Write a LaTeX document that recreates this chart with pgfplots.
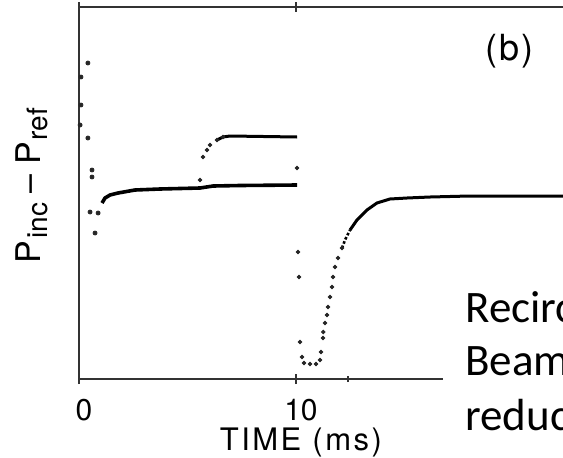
\documentclass[border=0pt]{standalone}
\usepackage{fontspec}
\setmainfont{TeX Gyre Heros}
\newfontfamily\calibri{Carlito}
\usepackage{pgfplots}
\pgfplotsset{compat=1.18}
\begin{document}
\begin{tikzpicture}
% page = 563 x 457 px at 0.5pt per px
\path[use as bounding box, clip] (0,0) rectangle (281.5pt,228.5pt);
\begin{axis}[
  at={(39.5pt,39pt)}, anchor=south west,
  scale only axis, width=260.4pt, height=186pt,
  xmin=0, xmax=24, ymin=0, ymax=372,
  axis line style={black!80, line width=1pt},
  xtick={0,10}, ytick=\empty,
  extra x ticks={12.4}, extra x tick labels={},
  extra x tick style={tick pos=bottom, major tick length=3pt},
  tick align=center, major tick length=5pt,
  tick style={black!80, line width=0.8pt},
  /pgf/number format/assume math mode=true,
  xticklabel style={font=\fontsize{15}{18}\selectfont, anchor=base, yshift=-18pt, xshift=2.5pt},
  xlabel={\addfontfeature{LetterSpace=8}TIME (ms)},
  xlabel style={at={(axis description cs:0.426,0)}, anchor=base, yshift=-35.5pt,
    font=\fontsize{15.5}{18}\selectfont},
  ylabel={P\kern1pt\raisebox{-3.5pt}{\fontsize{14}{16}\selectfont inc} -- P\kern1pt\raisebox{-3.5pt}{\fontsize{14}{16}\selectfont ref}},
  ylabel style={at={(axis description cs:-0.09,0.52)}, anchor=center,
    font=\fontsize{17}{20}\selectfont},
  clip=false,
]
% scattered start-up points
\addplot[only marks, mark=*, mark size=1pt, black!85] coordinates {
  (0.41,316) (0.09,302) (0.09,274) (0.05,254) (0.41,241)
  (0.60,209) (0.60,202) (0.51,167) (0.88,166) (0.74,146)
};
% lower branch
\addplot[line width=1.8pt, black] coordinates {
  (1.06,176) (1.20,181) (1.43,184) (1.80,186) (2.58,189)
  (3.73,190) (5.58,191) (6.18,193) (7.42,193.5) (10.05,194)
};
% upper branch, transition dots
\addplot[only marks, mark=*, mark size=0.9pt, black!85] coordinates {
  (5.58,199) (5.71,222) (5.90,229) (6.04,234) (6.36,239) (6.64,242)
};
\addplot[line width=1.5pt, black] coordinates {
  (6.36,239) (6.64,242) (6.96,243) (10.05,242)
};
% scattered points after 10 ms
\addplot[only marks, mark=*, mark size=0.9pt, black!85] coordinates {
  (10.05,211) (10.09,127) (10.14,102) (10.18,37)
};
% recovery
\addplot[only marks, mark=*, mark size=0.9pt, black!85] coordinates {
  (10.28,22) (10.37,16) (10.65,15) (10.92,15) (11.11,19) (11.15,27)
  (11.24,41) (11.26,47) (11.34,56) (11.43,64) (11.47,72) (11.57,82)
  (11.66,92) (11.71,102) (11.80,112) (11.94,121) (12.12,131)
};
\addplot[line width=1.3pt, black, densely dotted] coordinates {
  (12.12,131) (12.26,139) (12.49,149)
};
\addplot[line width=1.5pt, black] coordinates {
  (12.49,149) (12.81,159) (13.27,169) (13.73,176) (14.33,180)
  (15.12,181) (16.18,182) (18,183) (20,183) (23,183)
};
\node[font=\fontsize{18}{21}\selectfont] at (axis cs:19.86,328) {(\kern1pt b\kern1pt)};
\end{axis}
\fill[white] (221.5pt,0) rectangle (281.5pt,88.5pt);
\node[anchor=base west, inner sep=0pt, font=\calibri\fontsize{22.5}{27}\selectfont] at (232.5pt,67.5pt) {Recirc};
\node[anchor=base west, inner sep=0pt, font=\calibri\fontsize{22.5}{27}\selectfont] at (232.5pt,41pt) {Beam};
\node[anchor=base west, inner sep=0pt, font=\calibri\fontsize{22.5}{27}\selectfont] at (232.5pt,13.5pt) {reduc};
\end{tikzpicture}
\end{document}
